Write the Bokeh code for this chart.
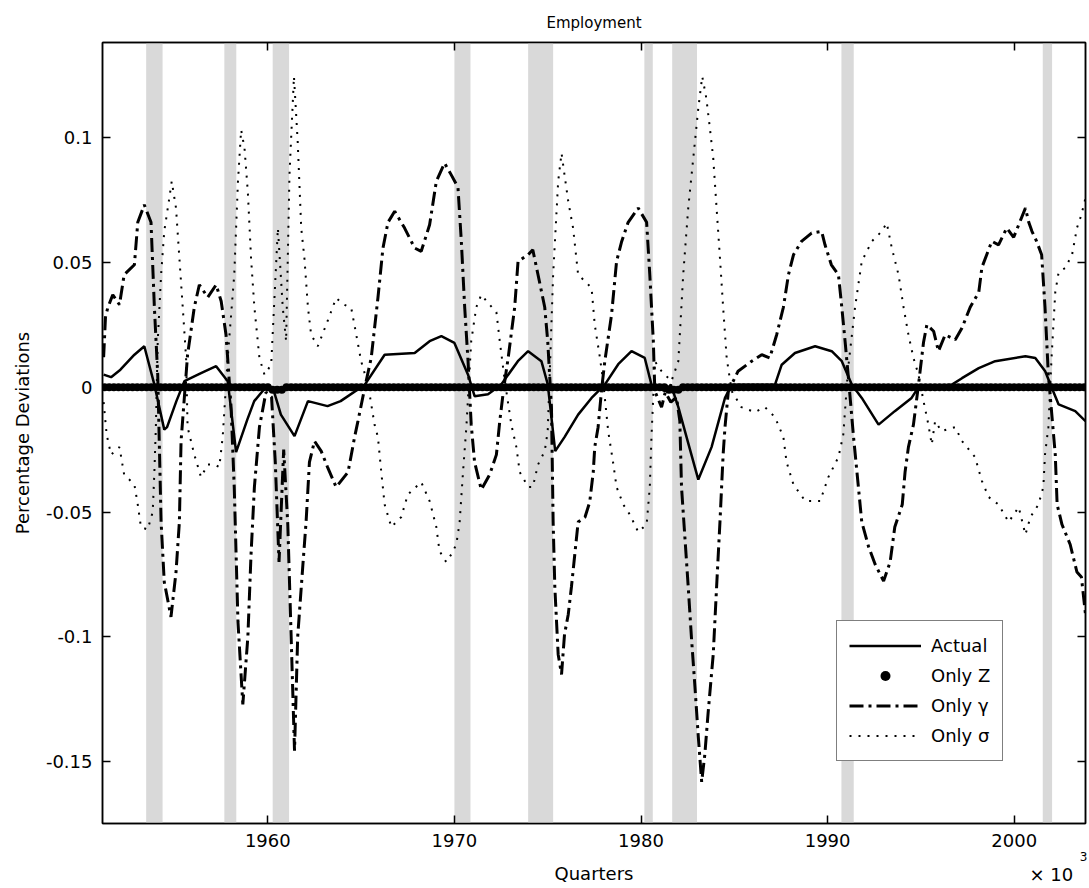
from bokeh.plotting import figure
from bokeh.models import (BoxAnnotation, Legend, LegendItem, LinearAxis,
                          FixedTicker, Range1d)
from bokeh.embed import file_html
from bokeh.resources import INLINE

FONT = "DejaVu Sans"

title_text = "Employment"
x_label = "Quarters"
y_label = "Percentage Deviations"
x_mult_base = "× 10"
x_mult_exp = "3"
series_names = ["Actual", "Only Z", "Only γ", "Only σ"]

x_ticks = [1960, 1970, 1980, 1990, 2000]
y_ticks = [-0.15, -0.1, -0.05, 0, 0.05, 0.1]
y_tick_labels = ["-0.15", "-0.1", "-0.05", "0", "0.05", "0.1"]

# recession bands (start, end)
rec_start = [1953.48, 1957.67, 1960.26, 1970.00, 1973.95, 1980.18, 1981.67, 1990.74, 2001.53]
rec_end = [1954.36, 1958.31, 1961.14, 1970.86, 1975.29, 1980.63, 1983.00, 1991.40, 2002.03]

# Actual
act_x = [1951.2, 1951.6, 1952.1, 1952.85, 1953.38, 1953.92, 1954.45, 1954.6, 1955.1,
         1955.53, 1956.42, 1957.23, 1957.85, 1958.3, 1958.9, 1959.27, 1960.0, 1960.3,
         1960.7, 1961.43, 1962.15, 1963.2, 1963.9, 1965.2, 1966.26, 1967.87, 1968.67,
         1969.3, 1970.0, 1970.73, 1971.08, 1971.8, 1972.5, 1973.4, 1973.95, 1974.66,
         1975.0, 1975.4, 1975.9, 1976.63, 1977.35, 1978.06, 1978.78, 1979.49, 1980.2,
         1980.56, 1981.28, 1981.6, 1982.0, 1982.5, 1983.07, 1983.78, 1984.5, 1984.86,
         1986.47, 1987.18, 1987.54, 1988.25, 1989.33, 1990.22, 1990.76, 1991.3, 1991.83,
         1992.73, 1993.6, 1994.5, 1994.87, 1996.66, 1997.2, 1998.1, 1998.98, 2000.6,
         2001.13, 2001.66, 2002.0, 2002.38, 2003.27, 2003.82]
act_y = [0.005, 0.004, 0.007, 0.013, 0.0164, 0.001, -0.017, -0.016, -0.0056,
         0.0024, 0.0056, 0.0084, 0.0024, -0.026, -0.013, -0.0056, 0.001, -0.001,
         -0.011, -0.0196, -0.0056, -0.0076, -0.0056, 0.001, 0.013, 0.0137, 0.0184,
         0.0204, 0.0177, 0.005, -0.0036, -0.0028, 0.001, 0.0104, 0.0144, 0.0104,
         0.0012, -0.0256, -0.02, -0.011, -0.0043, 0.001, 0.0092, 0.0144, 0.0117,
         0.001, -0.0016, 0.001, -0.008, -0.0216, -0.037, -0.024, -0.0043, 0.001,
         0.001, 0.001, 0.009, 0.0137, 0.0164, 0.0144, 0.0104, 0.001, -0.0043,
         -0.015, -0.0096, -0.0043, 0.0, 0.001, 0.0036, 0.0076, 0.0104, 0.0124,
         0.0117, 0.0064, 0.0, -0.0069, -0.0096, -0.0136]

# Only gamma
gam_x = [1951.2, 1951.3, 1951.42, 1951.69, 1952.05, 1952.3, 1952.85, 1953.03, 1953.38,
         1953.74, 1953.92, 1954.1, 1954.28, 1954.45, 1954.81, 1955.08, 1955.26, 1955.35,
         1955.7, 1956.06, 1956.33, 1956.78, 1957.23, 1957.5, 1957.76, 1958.03, 1958.2,
         1958.4, 1958.66, 1958.93, 1959.1, 1959.28, 1959.55, 1959.9, 1960.2, 1960.4,
         1960.6, 1960.85, 1961.07, 1961.25, 1961.43, 1961.6, 1961.88, 1962.05, 1962.23,
         1962.5, 1962.86, 1963.2, 1963.66, 1964.3, 1964.65, 1964.83, 1965.2, 1965.54,
         1965.9, 1966.17, 1966.44, 1966.8, 1967.33, 1967.87, 1968.22, 1968.67, 1969.03,
         1969.47, 1969.83, 1970.19, 1970.37, 1970.55, 1970.73, 1970.9, 1971.08, 1971.44,
         1971.89, 1972.25, 1972.43, 1972.65, 1972.88, 1973.23, 1973.41, 1973.95, 1974.2,
         1974.48, 1974.84, 1975.0, 1975.2, 1975.29, 1975.38, 1975.56, 1975.74, 1975.9,
         1976.1, 1976.27, 1976.45, 1976.63, 1977.0, 1977.25, 1977.44, 1977.52, 1977.7,
         1977.9, 1978.06, 1978.42, 1978.69, 1978.95, 1979.31, 1979.85, 1980.3, 1980.47,
         1980.66, 1980.74, 1981.1, 1981.3, 1981.6, 1981.9, 1982.08, 1982.17, 1982.35,
         1982.53, 1982.7, 1982.89, 1983.07, 1983.25, 1983.42, 1983.6, 1983.87, 1984.05,
         1984.23, 1984.4, 1984.5, 1984.68, 1985.2, 1985.93, 1986.47, 1986.9, 1987.27,
         1987.63, 1987.9, 1988.17, 1988.6, 1989.14, 1989.68, 1989.86, 1990.2, 1990.58,
         1990.76, 1990.94, 1991.1, 1991.39, 1991.65, 1991.83, 1992.2, 1992.55, 1993.0,
         1993.35, 1993.6, 1994.0, 1994.15, 1994.33, 1994.6, 1994.87, 1995.14, 1995.32,
         1995.68, 1995.94, 1996.3, 1996.84, 1997.2, 1997.64, 1998.1, 1998.27, 1998.8,
         1999.16, 1999.6, 1999.97, 2000.6, 2000.78, 2000.95, 2001.2, 2001.47, 2001.65,
         2001.83, 2002.2, 2002.3, 2002.56, 2003.0, 2003.36, 2003.6, 2003.82]
gam_y = [0.012, 0.028, 0.0317, 0.037, 0.033, 0.045, 0.049, 0.066, 0.073,
         0.066, 0.032, 0.005, -0.054, -0.078, -0.092, -0.074, -0.054, -0.0216,
         0.013, 0.032, 0.041, 0.036, 0.041, 0.0344, 0.021, -0.008, -0.04,
         -0.094, -0.127, -0.1, -0.067, -0.04, -0.016, -0.002, -0.004, -0.03,
         -0.07, -0.025, -0.055, -0.1, -0.1456, -0.1, -0.071, -0.054, -0.03,
         -0.0216, -0.0256, -0.032, -0.04, -0.034, -0.02, -0.0136, 0.0, 0.0117,
         0.0357, 0.0557, 0.066, 0.0704, 0.0637, 0.0557, 0.0544, 0.065, 0.0824,
         0.0897, 0.085, 0.08, 0.0584, 0.032, 0.0104, -0.015, -0.03, -0.041,
         -0.035, -0.027, -0.0136, 0.0, 0.0117, 0.032, 0.0504, 0.053, 0.055,
         0.045, 0.032, 0.0184, -0.008, -0.054, -0.08, -0.107, -0.115, -0.099,
         -0.091, -0.08, -0.067, -0.054, -0.052, -0.046, -0.034, -0.024, -0.016,
         0.0, 0.0104, 0.029, 0.0504, 0.058, 0.066, 0.0717, 0.066, 0.045,
         0.0184, -0.0016, -0.008, -0.002, -0.006, -0.004, -0.0136, -0.04, -0.06,
         -0.08, -0.1, -0.12, -0.14, -0.158, -0.147, -0.13, -0.107, -0.08,
         -0.054, -0.027, -0.016, -0.0016, 0.0064, 0.0104, 0.013, 0.0117, 0.021,
         0.032, 0.045, 0.053, 0.0584, 0.0617, 0.0624, 0.057, 0.049, 0.045,
         0.032, 0.018, 0.005, -0.02, -0.04, -0.054, -0.064, -0.071, -0.0776,
         -0.07, -0.056, -0.047, -0.034, -0.024, -0.015, 0.001, 0.018, 0.025,
         0.0224, 0.0144, 0.021, 0.019, 0.0237, 0.032, 0.038, 0.048, 0.0584,
         0.057, 0.0637, 0.06, 0.0717, 0.066, 0.0624, 0.0584, 0.053, 0.032,
         0.005, -0.027, -0.047, -0.055, -0.063, -0.074, -0.076, -0.091]

# Only sigma
sig_x = [1951.2, 1951.35, 1951.42, 1951.6, 1952.05, 1952.3, 1952.85, 1953.03, 1953.2,
         1953.56, 1953.83, 1953.92, 1954.0, 1954.1, 1954.28, 1954.45, 1954.72, 1954.85,
         1955.08, 1955.26, 1955.44, 1955.62, 1955.7, 1956.06, 1956.42, 1956.78, 1957.14,
         1957.4, 1957.58, 1957.85, 1958.2, 1958.4, 1958.57, 1958.75, 1958.93, 1959.1,
         1959.28, 1959.55, 1959.82, 1960.18, 1960.54, 1960.8, 1960.98, 1961.16, 1961.4,
         1961.6, 1961.79, 1961.96, 1962.15, 1962.32, 1962.68, 1963.2, 1963.66, 1964.1,
         1964.47, 1964.74, 1965.0, 1965.37, 1965.72, 1965.9, 1966.08, 1966.26, 1966.62,
         1967.15, 1967.5, 1968.22, 1968.67, 1969.03, 1969.2, 1969.56, 1969.83, 1970.1,
         1970.28, 1970.46, 1970.64, 1970.9, 1971.17, 1971.44, 1971.89, 1972.25, 1972.43,
         1972.7, 1973.05, 1973.32, 1973.5, 1973.95, 1974.2, 1974.48, 1974.84, 1975.0,
         1975.29, 1975.56, 1975.74, 1975.9, 1976.1, 1976.36, 1976.63, 1977.0, 1977.35,
         1977.52, 1977.8, 1977.97, 1978.24, 1978.5, 1978.69, 1979.05, 1979.4, 1979.85,
         1980.3, 1980.47, 1980.56, 1980.74, 1981.1, 1981.63, 1982.0, 1982.26, 1982.53,
         1982.8, 1983.07, 1983.28, 1983.5, 1983.69, 1983.87, 1984.05, 1984.23, 1984.4,
         1984.59, 1984.86, 1985.38, 1986.1, 1986.64, 1987.18, 1987.63, 1987.8, 1988.17,
         1988.8, 1989.6, 1990.04, 1990.58, 1990.84, 1991.1, 1991.47, 1991.83, 1992.37,
         1992.9, 1993.17, 1993.44, 1993.8, 1994.07, 1994.33, 1994.6, 1994.87, 1995.14,
         1995.4, 1995.58, 1995.76, 1996.1, 1996.84, 1997.2, 1997.9, 1998.27, 1998.63,
         1999.16, 1999.7, 2000.24, 2000.6, 2000.87, 2001.3, 2001.56, 2001.65, 2001.83,
         2002.0, 2002.2, 2002.38, 2002.73, 2003.1, 2003.36, 2003.6, 2003.82]
sig_y = [-0.006, -0.018, -0.021, -0.027, -0.024, -0.035, -0.039, -0.047, -0.056,
         -0.057, -0.05, -0.034, -0.016, 0.0184, 0.045, 0.0624, 0.0757, 0.0824,
         0.0717, 0.0517, 0.032, 0.0117, -0.016, -0.027, -0.036, -0.031, -0.031,
         -0.032, -0.02, 0.0117, 0.045, 0.0824, 0.103, 0.0957, 0.078, 0.0517,
         0.032, 0.0117, 0.005, 0.009, 0.0637, 0.032, 0.0184, 0.085, 0.1244,
         0.0984, 0.0637, 0.0517, 0.032, 0.021, 0.0164, 0.0264, 0.0357, 0.033,
         0.0317, 0.021, 0.0104, 0.001, -0.015, -0.02, -0.034, -0.047, -0.056,
         -0.052, -0.043, -0.038, -0.0456, -0.056, -0.0656, -0.07, -0.067, -0.063,
         -0.054, -0.034, -0.016, 0.0184, 0.032, 0.037, 0.033, 0.030, 0.0184,
         0.0024, -0.015, -0.024, -0.034, -0.04, -0.04, -0.031, -0.0256, -0.0176,
         0.045, 0.0824, 0.0937, 0.085, 0.0744, 0.0637, 0.045, 0.0424, 0.0397,
         0.025, 0.0117, 0.0024, -0.0176, -0.03, -0.04, -0.047, -0.051, -0.058,
         -0.055, -0.04, -0.02, 0.0104, 0.0064, 0.0024, 0.0104, 0.045, 0.0717,
         0.0917, 0.1117, 0.1244, 0.1157, 0.1037, 0.0917, 0.0717, 0.0517, 0.032,
         0.0117, -0.0016, -0.008, -0.010, -0.008, -0.012, -0.02, -0.03, -0.039,
         -0.0456, -0.0456, -0.036, -0.028, -0.019, 0.0077, 0.032, 0.0504, 0.0584,
         0.0624, 0.0657, 0.0557, 0.045, 0.032, 0.021, 0.0117, 0.005, -0.0056,
         -0.015, -0.023, -0.0136, -0.0176, -0.016, -0.0216, -0.028, -0.0376, -0.044,
         -0.047, -0.054, -0.048, -0.059, -0.052, -0.047, -0.04, -0.027, -0.016,
         0.0117, 0.038, 0.046, 0.0477, 0.053, 0.0637, 0.069, 0.0757]

# Only Z: one value per quarter, 1951Q2 .. 2003Q4 (flat at zero)
zq_x = [1951.25 + 0.25 * i for i in range(211)]
only_z = [
    0.000, 0.000, 0.000,                                        # 1951
    0.000, 0.000, 0.000, 0.000, 0.000, 0.000, 0.000, 0.000,     # 1952-53
    0.000, 0.000, 0.000, 0.000, 0.000, 0.000, 0.000, 0.000,     # 1954-55
    0.000, 0.000, 0.000, 0.000, 0.000, 0.000, 0.000, 0.000,     # 1956-57
    0.000, 0.000, 0.000, 0.000, 0.000, 0.000, 0.000, 0.000,     # 1958-59
    0.000, -0.001, -0.001, -0.001, 0.000, 0.000, 0.000, 0.000,  # 1960-61
    0.000, 0.000, 0.000, 0.000, 0.000, 0.000, 0.000, 0.000,     # 1962-63
    0.000, 0.000, 0.000, 0.000, 0.000, 0.000, 0.000, 0.000,     # 1964-65
    0.000, 0.000, 0.000, 0.000, 0.000, 0.000, 0.000, 0.000,     # 1966-67
    0.000, 0.000, 0.000, 0.000, 0.000, 0.000, 0.000, 0.000,     # 1968-69
    0.000, 0.000, 0.000, 0.000, 0.000, 0.000, 0.000, 0.000,     # 1970-71
    0.000, 0.000, 0.000, 0.000, 0.000, 0.000, 0.000, 0.000,     # 1972-73
    0.000, 0.000, 0.000, 0.000, 0.000, 0.000, 0.000, 0.000,     # 1974-75
    0.000, 0.000, 0.000, 0.000, 0.000, 0.000, 0.000, 0.000,     # 1976-77
    0.000, 0.000, 0.000, 0.000, 0.000, 0.000, 0.000, 0.000,     # 1978-79
    0.000, 0.000, 0.000, 0.000, 0.000, 0.000, -0.001, -0.001,   # 1980-81
    -0.001, 0.000, 0.000, 0.000, 0.000, 0.000, 0.000, 0.000,    # 1982-83
    0.000, 0.000, 0.000, 0.000, 0.000, 0.000, 0.000, 0.000,     # 1984-85
    0.000, 0.000, 0.000, 0.000, 0.000, 0.000, 0.000, 0.000,     # 1986-87
    0.000, 0.000, 0.000, 0.000, 0.000, 0.000, 0.000, 0.000,     # 1988-89
    0.000, 0.000, 0.000, 0.000, 0.000, 0.000, 0.000, 0.000,     # 1990-91
    0.000, 0.000, 0.000, 0.000, 0.000, 0.000, 0.000, 0.000,     # 1992-93
    0.000, 0.000, 0.000, 0.000, 0.000, 0.000, 0.000, 0.000,     # 1994-95
    0.000, 0.000, 0.000, 0.000, 0.000, 0.000, 0.000, 0.000,     # 1996-97
    0.000, 0.000, 0.000, 0.000, 0.000, 0.000, 0.000, 0.000,     # 1998-99
    0.000, 0.000, 0.000, 0.000, 0.000, 0.000, 0.000, 0.000,     # 2000-01
    0.000, 0.000, 0.000, 0.000, 0.000, 0.000, 0.000, 0.000,     # 2002-03
]

p = figure(width=1089, height=888, output_backend="svg", toolbar_location=None,
           x_range=Range1d(1951.14, 2003.82), y_range=Range1d(-0.1747, 0.138),
           min_border_left=102, min_border_right=4, min_border_top=41,
           min_border_bottom=65)
p.background_fill_color = "white"
p.border_fill_color = "white"
p.outline_line_color = "black"
p.outline_line_width = 1.5
p.xgrid.visible = False
p.ygrid.visible = False

p.title.text = title_text
p.title.align = "center"
p.title.text_font = FONT
p.title.text_font_size = "15px"
p.title.text_font_style = "normal"
p.title.text_color = "black"
p.title.standoff = 22

for s, e in zip(rec_start, rec_end):
    p.add_layout(BoxAnnotation(left=s, right=e, fill_color="#d9d9d9", fill_alpha=1.0,
                               line_color=None, level="underlay"))

r_sig = p.line(sig_x, sig_y, line_color="black", line_width=2, line_dash="2 7")
r_gam = p.line(gam_x, gam_y, line_color="black", line_width=3, line_dash="14 5 3 5")
r_act = p.line(act_x, act_y, line_color="black", line_width=2.5)
r_z = p.scatter(zq_x, only_z, marker="circle", size=8, fill_color="black",
                line_color=None)


def style(ax, ticks, labels=True):
    ax.ticker = FixedTicker(ticks=ticks)
    ax.major_tick_in = 8
    ax.major_tick_out = 0
    ax.minor_tick_line_color = None
    ax.axis_line_color = "black"
    ax.axis_line_width = 1.5
    ax.major_tick_line_color = "black"
    ax.major_tick_line_width = 1.5
    ax.major_label_text_font = FONT
    ax.major_label_text_color = "black"
    if labels:
        ax.major_label_text_font_size = "18px"
    else:
        ax.major_label_text_font_size = "1px"
        ax.major_label_text_color = None
        ax.major_label_standoff = 0


xa = p.below[0]
style(xa, x_ticks)
xa.axis_label = x_label
xa.axis_label_text_font = FONT
xa.axis_label_text_font_size = "18px"
xa.axis_label_text_font_style = "normal"
xa.axis_label_text_color = "black"
xa.major_label_standoff = 10
xa.axis_label_standoff = 13

ya = p.left[0]
style(ya, y_ticks)
ya.major_label_overrides = {t: l for t, l in zip(y_ticks, y_tick_labels)}
ya.axis_label = y_label
ya.axis_label_text_font = FONT
ya.axis_label_text_font_size = "18px"
ya.axis_label_text_font_style = "normal"
ya.axis_label_text_color = "black"
ya.major_label_standoff = 10
ya.axis_label_standoff = 10

top_ax = LinearAxis()
style(top_ax, x_ticks, labels=False)
p.add_layout(top_ax, "above")
right_ax = LinearAxis()
style(right_ax, y_ticks, labels=False)
p.add_layout(right_ax, "right")


def note_axis(pos, text, size, standoff):
    ax = LinearAxis(ticker=FixedTicker(ticks=[pos]),
                    major_label_overrides={pos: text})
    ax.axis_line_color = None
    ax.major_tick_line_color = None
    ax.minor_tick_line_color = None
    ax.major_tick_in = 0
    ax.major_tick_out = 0
    ax.major_label_text_font = FONT
    ax.major_label_text_font_size = size
    ax.major_label_text_color = "black"
    ax.major_label_standoff = standoff
    return ax


# exponent note "x 10^3" under the right end of the x axis
p.add_layout(note_axis(2001.99, x_mult_base, "18px", -23), "below")
p.add_layout(note_axis(2003.71, x_mult_exp, "12px", -36), "below")

legend = Legend(items=[
    LegendItem(label=series_names[0], renderers=[r_act]),
    LegendItem(label=series_names[1], renderers=[r_z]),
    LegendItem(label=series_names[2], renderers=[r_gam]),
    LegendItem(label=series_names[3], renderers=[r_sig]),
], location=(734, 62))
legend.margin = 0
legend.padding = 12
legend.spacing = 5
legend.glyph_width = 72
legend.glyph_height = 25
legend.label_height = 25
legend.label_standoff = 10
legend.label_text_font = FONT
legend.label_text_font_size = "18px"
legend.label_text_color = "black"
legend.border_line_color = "black"
legend.border_line_width = 1.5
legend.background_fill_color = "white"
legend.background_fill_alpha = 1.0
p.add_layout(legend)

open("out.html", "w").write(file_html(p, INLINE))
